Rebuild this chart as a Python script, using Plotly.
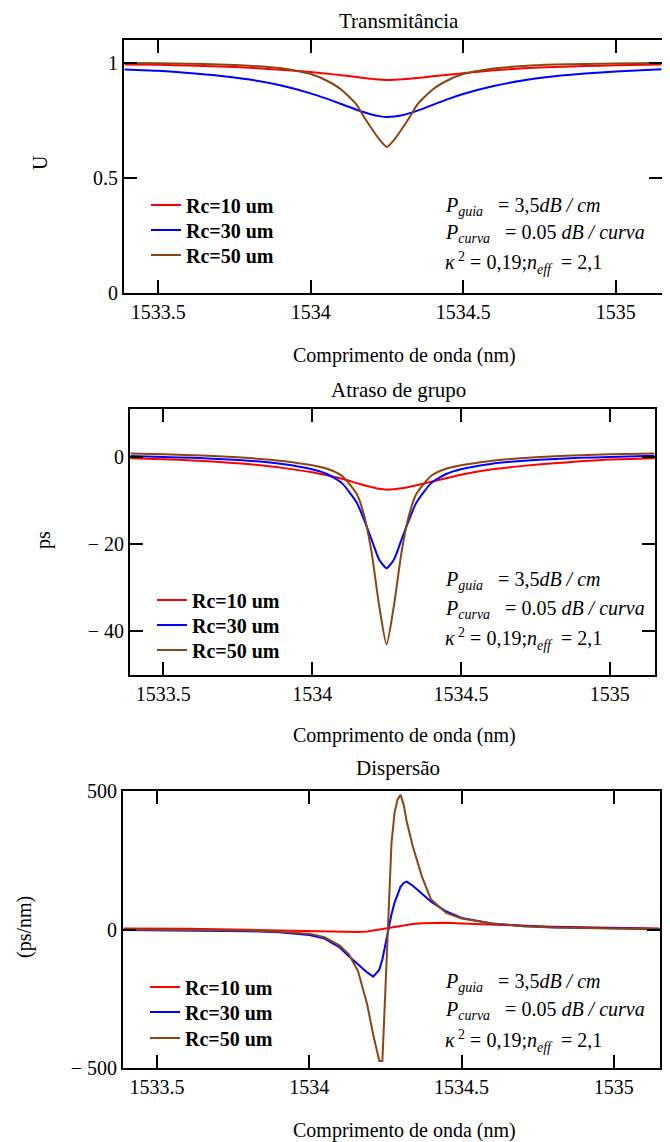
import plotly.graph_objects as go

# ---------------- data ----------------
series_names = ["Rc=10 um", "Rc=30 um", "Rc=50 um"]
series_colors = ["#FF0000", "#0000FF", "#8B4513"]

lam = [1533.39, 1533.5, 1533.6, 1533.7, 1533.8, 1533.9, 1534.0, 1534.05, 1534.1,
       1534.15, 1534.175, 1534.2, 1534.225, 1534.25, 1534.275, 1534.3, 1534.325,
       1534.35, 1534.4, 1534.45, 1534.5, 1534.6, 1534.7, 1534.8, 1534.9, 1535.0, 1535.15]

trans_rc10 = [0.994, 0.992, 0.989, 0.985, 0.979, 0.971, 0.961, 0.954, 0.947,
              0.939, 0.935, 0.931, 0.928, 0.926, 0.927, 0.929, 0.932,
              0.935, 0.942, 0.949, 0.956, 0.968, 0.977, 0.983, 0.987, 0.990, 0.994]
trans_rc30 = [0.972, 0.966, 0.957, 0.945, 0.928, 0.903, 0.868, 0.846, 0.822,
              0.797, 0.786, 0.776, 0.769, 0.765, 0.767, 0.773, 0.782,
              0.793, 0.818, 0.843, 0.865, 0.900, 0.925, 0.942, 0.954, 0.963, 0.973]
trans_rc50 = [1.000, 0.999, 0.997, 0.994, 0.988, 0.978, 0.952, 0.925, 0.885,
              0.820, 0.765, 0.715, 0.668, 0.635, 0.668, 0.715, 0.765,
              0.820, 0.885, 0.925, 0.952, 0.976, 0.987, 0.993, 0.996, 0.998, 1.000]

delay_rc10 = [-0.3, -0.5, -0.8, -1.2, -1.7, -2.5, -3.5, -4.2, -5.0,
              -6.0, -6.5, -6.9, -7.3, -7.5, -7.4, -7.2, -6.9,
              -6.5, -5.7, -4.9, -4.1, -2.9, -2.1, -1.5, -1.0, -0.6, -0.3]
delay_rc30 = [0.2, 0.0, -0.2, -0.5, -0.9, -1.6, -2.8, -3.9, -6.0,
              -10.5, -14.5, -19.0, -23.5, -25.5, -23.5, -19.0, -14.5,
              -10.5, -6.0, -3.9, -2.8, -1.6, -0.9, -0.5, -0.2, 0.0, 0.3]
delay_rc50 = [0.8, 0.6, 0.4, 0.1, -0.3, -0.9, -1.9, -2.7, -4.3,
              -8.5, -13.5, -22.0, -34.0, -43.0, -34.0, -22.0, -13.5,
              -8.5, -4.3, -2.7, -1.9, -0.9, -0.3, 0.1, 0.4, 0.6, 0.8]

lam_d = [1533.39, 1533.6, 1533.8, 1533.9, 1534.0, 1534.05, 1534.1, 1534.13, 1534.16,
         1534.19, 1534.21, 1534.23, 1534.24, 1534.245, 1534.255, 1534.262, 1534.27,
         1534.28, 1534.29, 1534.30, 1534.31, 1534.32, 1534.34, 1534.37, 1534.40,
         1534.45, 1534.5, 1534.6, 1534.7, 1534.8, 1535.0, 1535.15]
disp_rc10 = [4, 3, -1, -3, -5, -7, -9, -10, -9,
             -7, -4, -1, 1, 2, 4, 5, 7,
             9, 11, 13, 15, 17, 20, 23, 24,
             24, 22, 18, 14, 10, 6, 4]
disp_rc30 = [-2, -3, -6, -10, -20, -33, -65, -97, -125,
             -155, -170, -145, -108, -80, -20, 20, 55,
             97, 130, 155, 168, 173, 158, 128, 100,
             65, 42, 22, 13, 8, 4, 2]
disp_rc50 = [0, -2, -4, -8, -15, -28, -58, -90, -150,
             -270, -380, -475, -475, -348, -80, 61, 313,
             421, 470, 486, 450, 390, 300, 191, 108,
             60, 40, 22, 12, 7, 3, 1]

x_ticks = [1533.5, 1534, 1534.5, 1535]
x_ticktext = ["1533.5", "1534", "1534.5", "1535"]
y1_ticks, y1_text = [0, 0.5, 1], ["0", "0.5", "1"]
y2_ticks, y2_text = [-40, -20, 0], ["\u2212 40", "\u2212 20", "0"]
y3_ticks, y3_text = [-500, 0, 500], ["\u2212 500", "0", "500"]

panel_titles = ["Transmitância", "Atraso de grupo", "Dispersão"]
y_titles = ["U", "ps", "(ps/nm)"]
x_title = "Comprimento de onda (nm)"
param_lines = [
    "<i>P</i><sub><i>guia</i></sub>\u00a0\u00a0\u00a0= 3,5<i>dB / cm</i>",
    "<i>P</i><sub><i>curva</i></sub>\u00a0\u00a0\u00a0= 0.05<i>\u00a0dB / curva</i>",
    "<i>\u03ba</i><sup>\u00a02</sup> = 0,19;<i>n</i><sub><i>eff</i></sub>\u00a0\u00a0= 2,1",
]

# ---------------- layout geometry (pixels of the page) ----------------
W, H = 670, 1142
OFF = 8  # page body margin
FONT = "Liberation Serif, Times New Roman, DejaVu Serif, serif"

def px_x(v):
    return (v - OFF) / W

def px_y(v):
    return 1 - (v - OFF) / H

panels = [
    dict(x0=124, x1=662, y0=40, y1=293, yr=[0, 1.1], yt=(y1_ticks, y1_text),
         xs=lam, ys=[trans_rc10, trans_rc30, trans_rc50], shape="spline",
         title_y=21, xt_y=355, yt_x=40, yt_y=163,
         leg_y=[205, 230, 255], par_y=[206, 234, 263]),
    dict(x0=130, x1=655, y0=409, y1=675, yr=[-50, 11], yt=(y2_ticks, y2_text),
         xs=lam, ys=[delay_rc10, delay_rc30, delay_rc50], shape="spline",
         title_y=390, xt_y=735, yt_x=43, yt_y=540,
         leg_y=[600, 625, 650], par_y=[580, 609, 639]),
    dict(x0=123, x1=660, y0=791, y1=1068, yr=[-500, 500], yt=(y3_ticks, y3_text),
         xs=lam_d, ys=[disp_rc10, disp_rc30, disp_rc50], shape="linear",
         title_y=768, xt_y=1130, yt_x=24, yt_y=927,
         leg_y=[987, 1012, 1038], par_y=[982, 1011, 1041]),
]

fig = go.Figure()
layout = dict(
    width=W, height=H, autosize=False,
    margin=dict(l=0, r=0, t=0, b=0, pad=0, autoexpand=False),
    paper_bgcolor="white", plot_bgcolor="white",
    font=dict(family=FONT, size=20, color="black"),
    annotations=[], showlegend=True,
)

for i, p in enumerate(panels):
    n = "" if i == 0 else str(i + 1)
    axis_common = dict(
        showline=True, linecolor="black", linewidth=2, mirror="ticks",
        ticks="inside", ticklen=13, tickwidth=2, tickcolor="black",
        showgrid=False, zeroline=False, automargin=False,
        tickfont=dict(family=FONT, size=20, color="black"),
    )
    layout["xaxis" + n] = dict(
        axis_common, domain=[px_x(p["x0"]), px_x(p["x1"])],
        range=[1533.388, 1535.152], tickvals=x_ticks, ticktext=x_ticktext,
        anchor="y" + n, ticklabelstandoff=0,
    )
    layout["yaxis" + n] = dict(
        axis_common, domain=[px_y(p["y1"]), px_y(p["y0"])],
        range=p["yr"], tickvals=p["yt"][0], ticktext=p["yt"][1],
        anchor="x" + n, ticklabelstandoff=0,
    )
    for k in range(3):
        leg = "legend" + ("" if i * 3 + k == 0 else str(i * 3 + k + 1))
        fig.add_trace(go.Scatter(
            x=p["xs"], y=p["ys"][k], mode="lines", name=series_names[k],
            line=dict(color=series_colors[k], width=2, shape=p["shape"], smoothing=0.6)
            if p["shape"] == "spline" else dict(color=series_colors[k], width=2),
            xaxis="x" + n, yaxis="y" + n, legend=leg, showlegend=True,
        ))
        layout[leg] = dict(
            x=px_x(p["x0"] + 22), y=px_y(p["leg_y"][k]), xanchor="left", yanchor="middle",
            bgcolor="rgba(0,0,0,0)", borderwidth=0,
            font=dict(family=FONT, size=20, color="black", weight="bold"),
        )
    cx = (p["x0"] + p["x1"]) / 2 + 6
    layout["annotations"] += [
        dict(text=panel_titles[i], x=px_x(cx), y=px_y(p["title_y"]), xref="paper", yref="paper",
             showarrow=False, xanchor="center", yanchor="middle", font=dict(family=FONT, size=21)),
        dict(text=x_title, x=px_x(404), y=px_y(p["xt_y"]), xref="paper", yref="paper",
             showarrow=False, xanchor="center", yanchor="middle", font=dict(family=FONT, size=20)),
        dict(text=y_titles[i], x=px_x(p["yt_x"]), y=px_y(p["yt_y"]), xref="paper", yref="paper",
             showarrow=False, xanchor="center", yanchor="middle", textangle=-90,
             font=dict(family=FONT, size=20)),
    ]
    for j, t in enumerate(param_lines):
        layout["annotations"].append(
            dict(text=t, x=px_x(443), y=px_y(p["par_y"][j]), xref="paper", yref="paper",
                 showarrow=False, xanchor="left", yanchor="middle", font=dict(family=FONT, size=20)))

fig.update_layout(**layout)
fig.write_html("out.html")
